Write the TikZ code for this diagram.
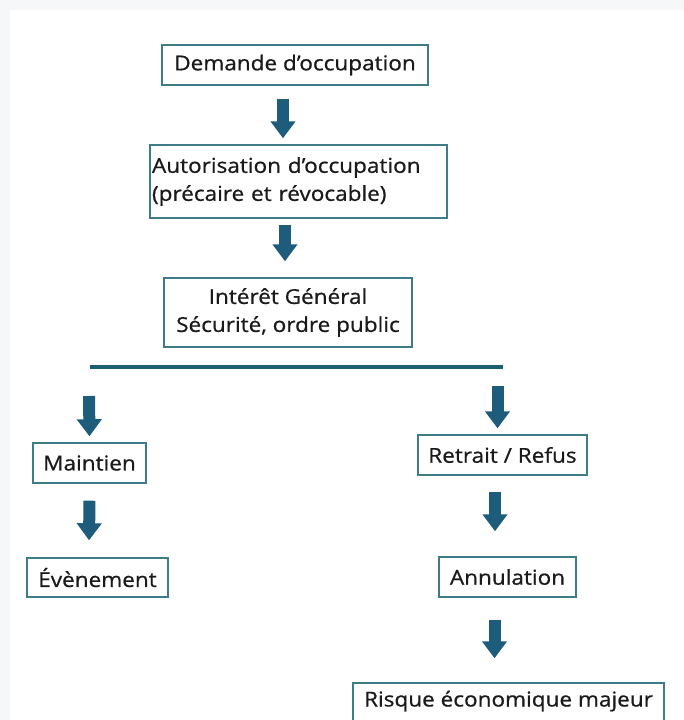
\documentclass[tikz,border=0pt]{standalone}
\usepackage{fontspec}
\setmainfont[FakeStretch=1.1,FakeBold=0.7]{Open Sans}
\usetikzlibrary{arrows.meta}
\definecolor{boxline}{HTML}{3E7C87}
\definecolor{arrowc}{HTML}{1D5C7A}
\definecolor{barc}{HTML}{1C5F6E}
\definecolor{txt}{HTML}{1A1A1A}
\definecolor{outerbg}{HTML}{F6F7F9}
\tikzset{
  box/.style={draw=boxline, line width=1.4pt, fill=white, text=txt, inner sep=0pt,
    font=\fontsize{20.5}{28}\selectfont, align=center},
  blockarrow/.style={draw=arrowc, line width=12pt,
    -{Triangle[width=24pt,length=17pt,fill=arrowc]}},
}
\begin{document}
\begin{tikzpicture}[x=1pt,y=-1pt]
\useasboundingbox (0,0) rectangle (684,720);
\fill[outerbg] (0,0) rectangle (684,720);
\fill[white] (10,10) rectangle (684,720);

\node[box, minimum width=266pt, minimum height=40pt] (b1) at (295,65) {Demande d’occupation};
\node[box, text width=293pt, inner xsep=2pt, align=left, minimum height=73pt] (b2) at (298.5,181.5)
  {Autorisation d’occupation\\(précaire et révocable)};
\node[box, minimum width=248pt, minimum height=69pt] (b3) at (288,312.5)
  {Intérêt Général\\Sécurité, ordre public};

\coordinate (barL) at (90,367);
\coordinate (barR) at (503,367);
\draw[barc, line width=4.5pt] (barL) -- (barR);

\node[box, minimum width=113pt, minimum height=40pt] (m) at (89.5,463) {Maintien};
\node[box, minimum width=141pt, minimum height=39pt] (ev) at (97.5,577.5) {Évènement};
\node[box, minimum width=169pt, minimum height=40pt] (r) at (502.5,455) {Retrait / Refus};
\node[box, minimum width=137pt, minimum height=40pt] (an) at (507.5,577) {Annulation};
\node[box, minimum width=311pt, minimum height=44pt, text height=15pt, text depth=12pt] (rq)
  at (508.5,705) {Risque économique majeur};

\draw[blockarrow] ([xshift=-12pt,yshift=-13pt]b1.south) -- ([xshift=-15.5pt,yshift=6pt]b2.north);
\draw[blockarrow] ([xshift=-13.5pt,yshift=-6pt]b2.south) -- ([xshift=-3pt,yshift=16pt]b3.north);
\draw[blockarrow] ([xshift=-1pt,yshift=-29pt]barL) -- ([yshift=6pt]m.north);
\draw[blockarrow] ([xshift=-5.5pt,yshift=-19pt]barR) -- ([xshift=-5pt,yshift=6pt]r.north);
\draw[blockarrow] ([yshift=-17pt]m.south) -- ([xshift=-8.5pt,yshift=17pt]ev.north);
\draw[blockarrow] ([xshift=-7.5pt,yshift=-16pt]r.south) -- ([xshift=-12.5pt,yshift=25pt]an.north);
\draw[blockarrow] ([xshift=-13pt,yshift=-22pt]an.south) -- ([xshift=-14pt,yshift=24pt]rq.north);
\end{tikzpicture}
\end{document}
